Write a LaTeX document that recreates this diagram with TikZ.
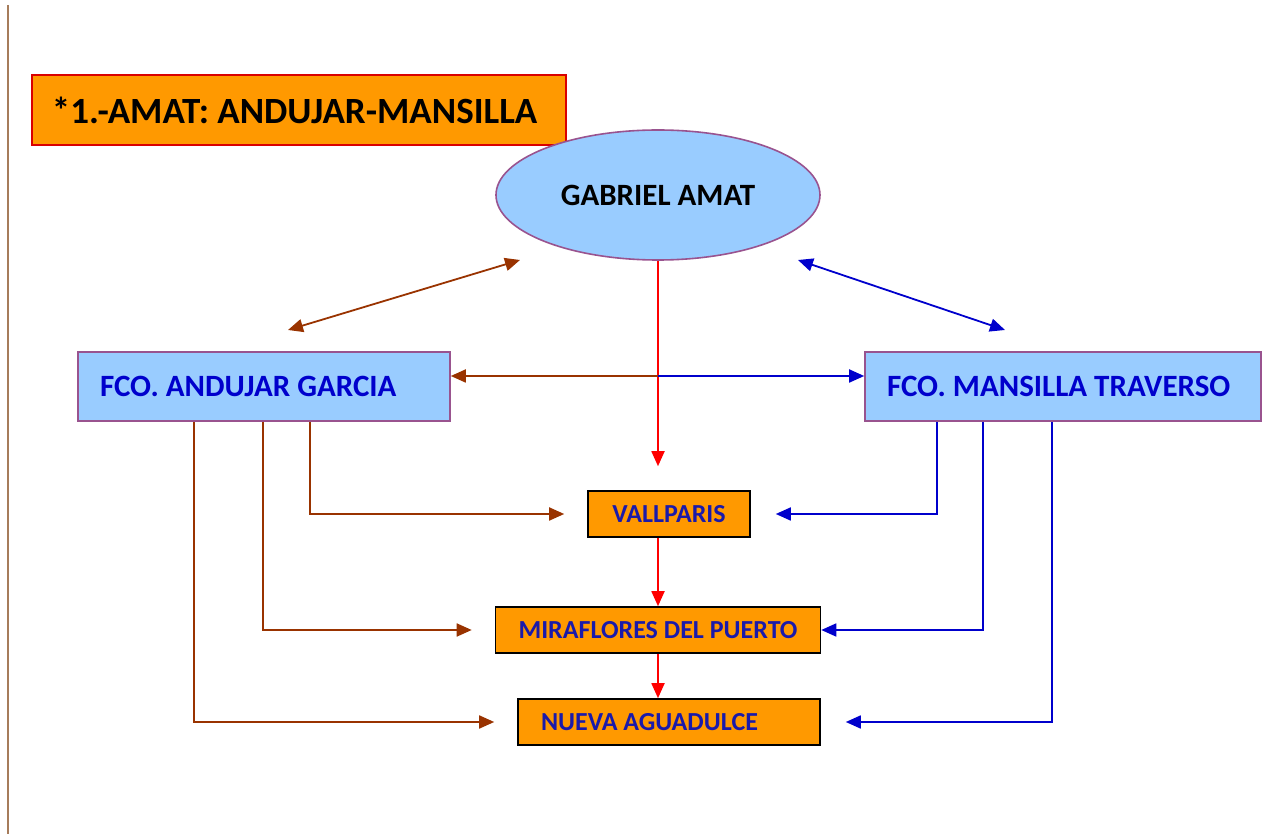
\documentclass[tikz,border=0pt]{standalone}
\usepackage{fontspec}
\setmainfont{Carlito}
\usepackage{tikz}
\usetikzlibrary{shapes.geometric,arrows.meta}
\definecolor{boxorange}{HTML}{FF9900}
\definecolor{boxblue}{HTML}{99CCFF}
\definecolor{rimpurple}{HTML}{99538F}
\definecolor{linkbrown}{HTML}{993300}
\definecolor{linkblue}{HTML}{0000CC}
\definecolor{textblue}{HTML}{1A1AAA}
\definecolor{edgetan}{HTML}{A67C5B}

\begin{document}
\begin{tikzpicture}[x=0.5pt,y=-0.5pt,
  >={Triangle[length=7.5pt,width=6.5pt]},
  personbox/.style={draw=rimpurple, line width=0.8pt, fill=boxblue, minimum width=186pt, minimum height=34.5pt, inner xsep=11pt, text width=164pt, align=flush left, text=linkblue, font=\fontsize{15.5}{18}\selectfont\bfseries},
  placebox/.style={draw=black, line width=0.8pt, fill=boxorange, minimum height=23pt, inner xsep=2pt, text=textblue, font=\fontsize{13}{15}\selectfont\bfseries},
  brownlink/.style={color=linkbrown, line width=0.9pt},
  bluelink/.style={color=linkblue, line width=0.9pt},
  redlink/.style={color=red, line width=0.9pt}]
\useasboundingbox (0,0) rectangle (1266,834);
\draw[edgetan, line width=0.6pt] (8,5) -- (8,834);
\node[draw=red!85!black, fill=boxorange, line width=0.8pt, minimum width=267pt, minimum height=35pt, inner xsep=10pt, text width=247pt, align=flush left, font=\fontsize{18.5}{22}\selectfont\bfseries] (title) at (299,110) {*1.-AMAT: ANDUJAR-MANSILLA};
\node[ellipse, draw=rimpurple, line width=0.8pt, fill=boxblue, minimum width=162pt, minimum height=65pt, font=\fontsize{15.5}{18}\selectfont\bfseries] (amat) at (658,195) {GABRIEL AMAT};
\node[personbox] (andujar) at (264,386.5) {FCO. ANDUJAR GARCIA};
\node[personbox, minimum width=197pt, text width=176pt] (mansilla) at (1063,386.5) {FCO. MANSILLA TRAVERSO};
\node[placebox, minimum width=81pt] (vallparis) at (669,514) {VALLPARIS};
\node[placebox, minimum width=162.5pt] (miraflores) at (658,630) {MIRAFLORES DEL PUERTO};
\node[placebox, minimum width=151pt, inner xsep=11.5pt, text width=128pt, align=flush left] (nueva) at (669,722) {NUEVA AGUADULCE};
\coordinate (cross) at (658,376);
\coordinate (bl1) at (288,330);
\coordinate (bl2) at (520,260);
\coordinate (br1) at (798,260);
\coordinate (br2) at (1005,330);
 \draw[redlink,->,shorten >=12pt] (amat.south) -- (amat.south |- vallparis.north);
 \draw[redlink,->] (miraflores.north |- vallparis.south) -- (miraflores.north);
 \draw[redlink,->] (miraflores.south) -- (miraflores.south |- nueva.north);
 \draw[brownlink,->] (cross) -- (cross -| andujar.east);
 \draw[bluelink,->] (cross) -- (cross -| mansilla.west);
 \draw[brownlink,<->] (bl1) -- (bl2);
 \draw[bluelink,<->] (br1) -- (br2);
 \draw[brownlink,->,shorten >=11.5pt] (andujar.south -| 310,0) |- (vallparis.west);
 \draw[brownlink,->,shorten >=11.5pt] (andujar.south -| 263,0) |- (miraflores.west);
 \draw[brownlink,->,shorten >=11.5pt] (andujar.south -| 194,0) |- (nueva.west);
 \draw[bluelink,->,shorten >=12.5pt] (mansilla.south -| 937,0) |- (vallparis.east);
 \draw[bluelink,->] (mansilla.south -| 983,0) |- (miraflores.east);
 \draw[bluelink,->,shorten >=12.5pt] (mansilla.south -| 1052,0) |- (nueva.east);
\end{tikzpicture}
\end{document}
